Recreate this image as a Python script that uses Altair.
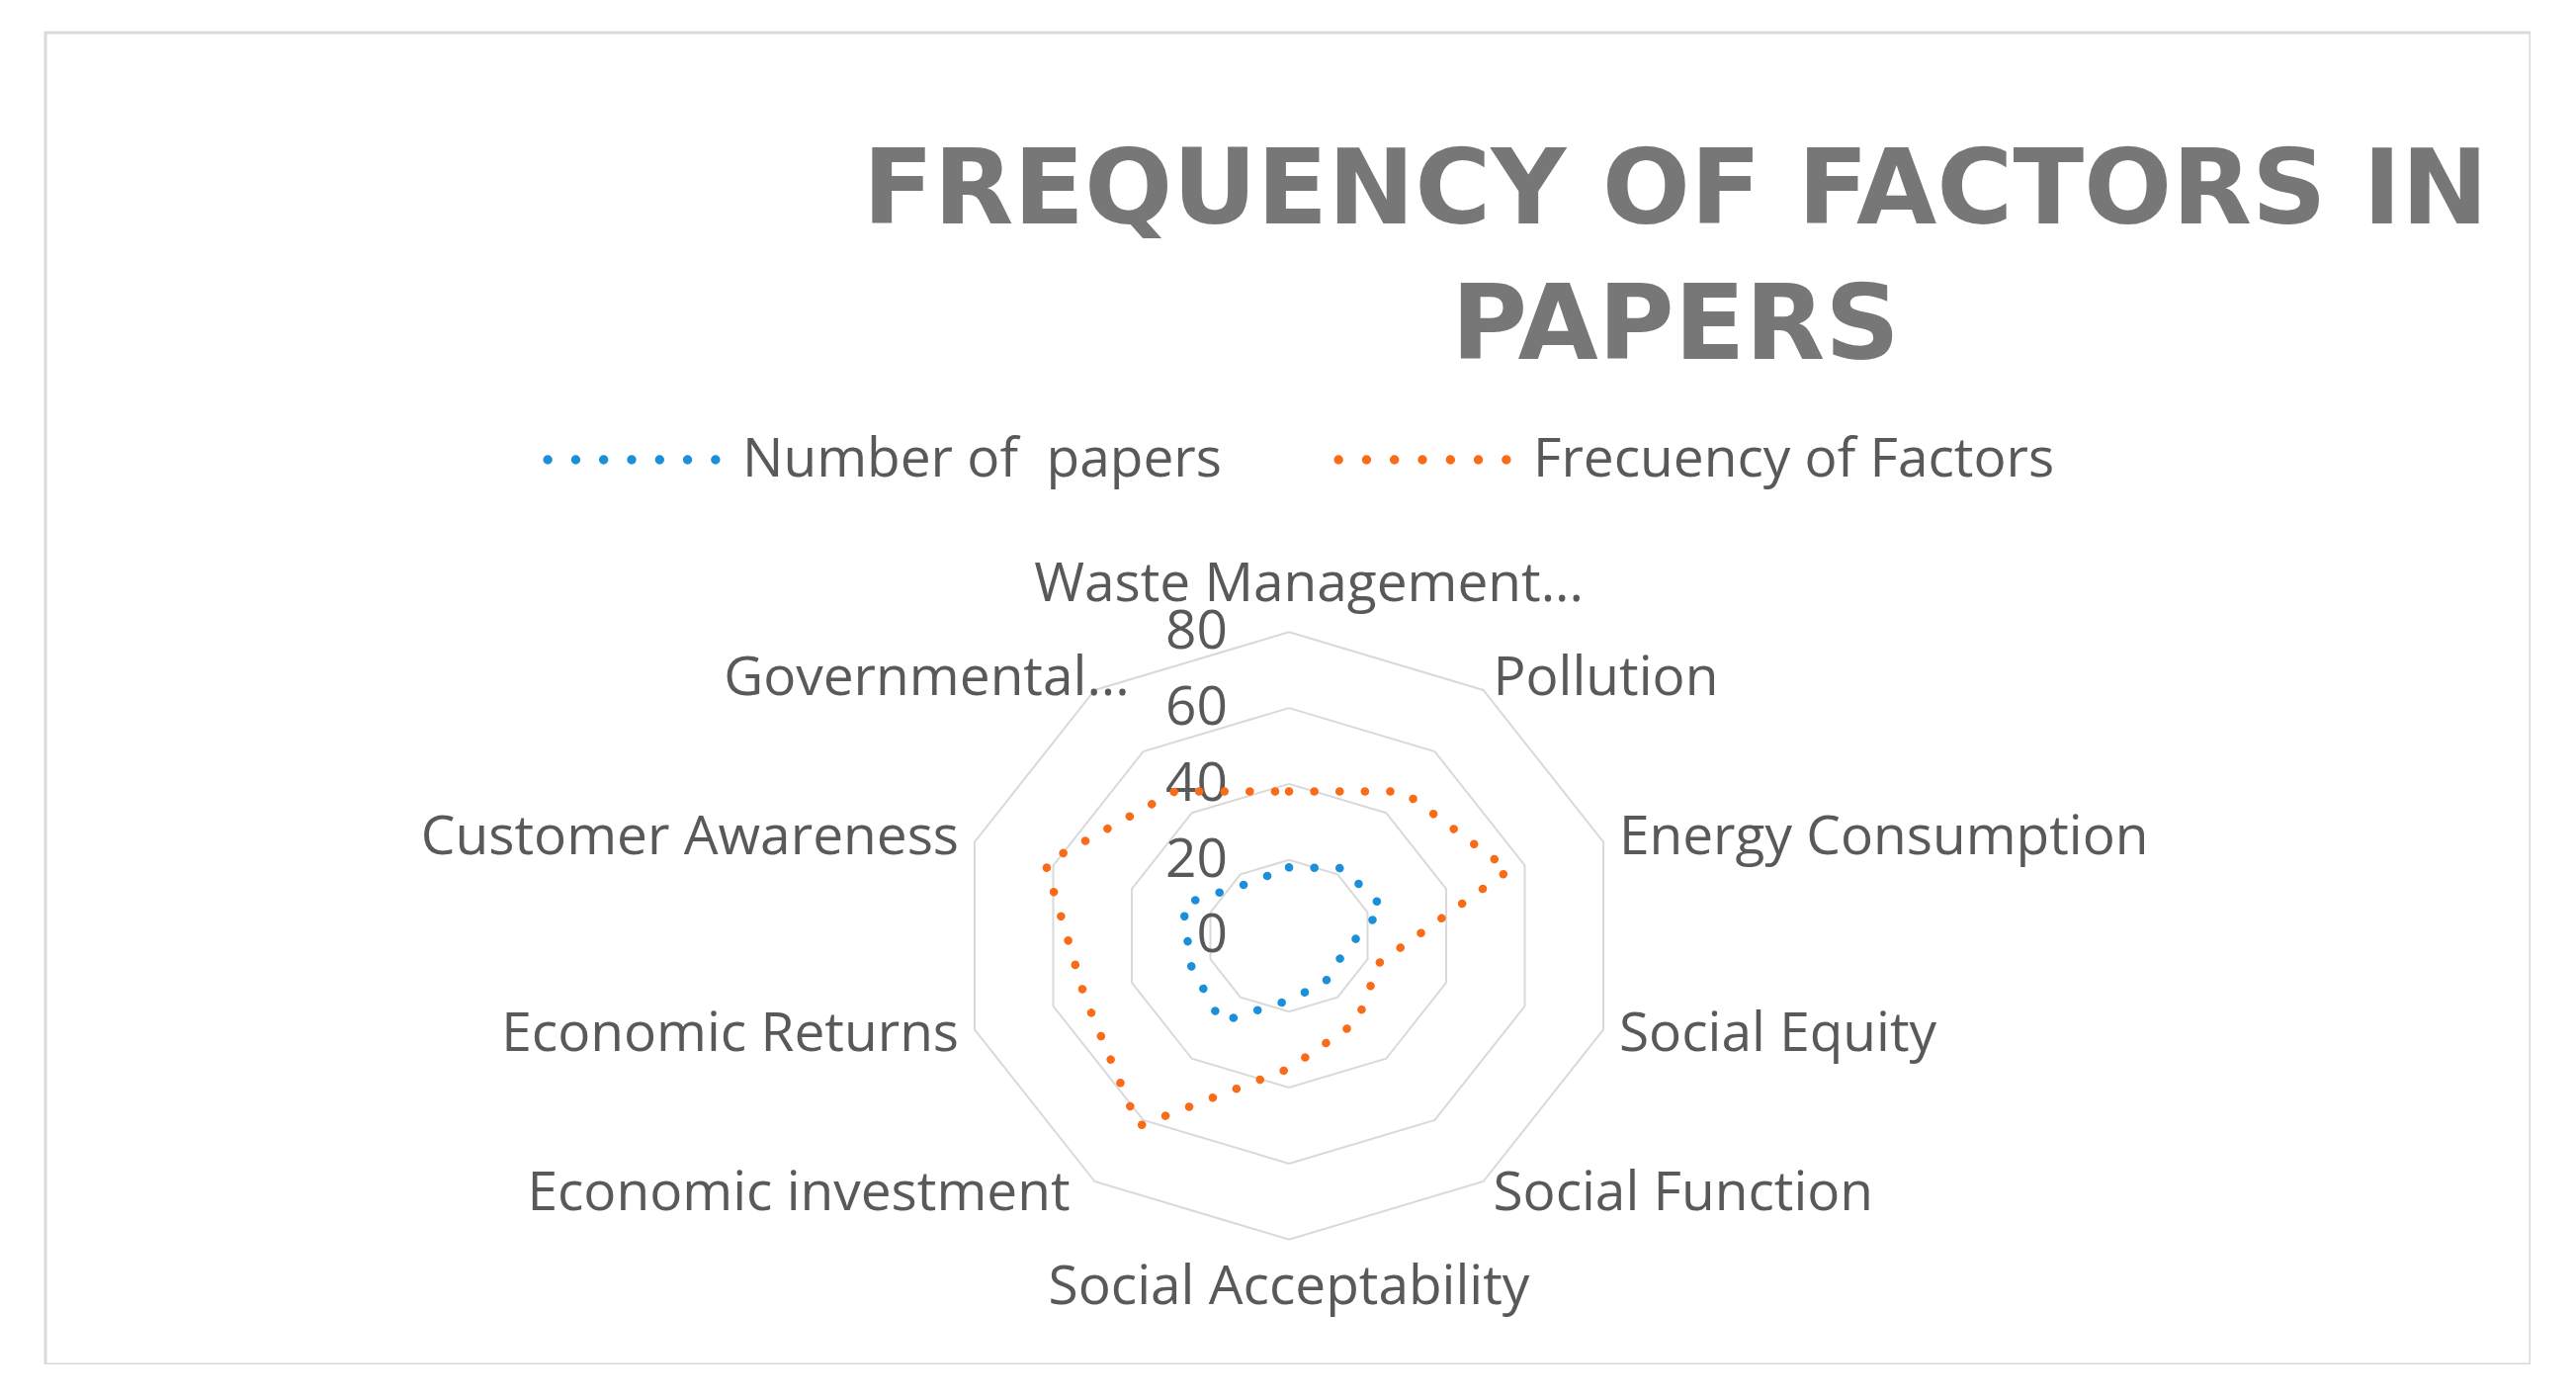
import altair as alt
import pandas as pd

# ---------------- data ----------------
categories = ["Waste Management...", "Pollution", "Energy Consumption", "Social Equity",
              "Social Function", "Social Acceptability", "Economic investment",
              "Economic Returns", "Customer Awareness", "Governmental..."]
number_of_papers = [18, 22, 24, 14, 15, 17, 28, 25, 27, 17]
frequency_of_factors = [38, 47, 56, 23, 28, 35, 62, 52, 62, 47]
series_names = ["Number of\u00a0 papers", "Frecuency of Factors"]
series_colors = ["#1C8FD9", "#F96B17"]
ring_levels = [20, 40, 60, 80]
tick_labels = [0, 20, 40, 60, 80]
title_lines = ["FREQUENCY OF FACTORS IN", "PAPERS"]

N = len(categories)

rows = []
for name, vals in zip(series_names, [number_of_papers, frequency_of_factors]):
    for i in range(N + 1):
        rows.append({"series": name, "idx": i, "value": vals[i % N]})
series_df = pd.DataFrame(rows)
ring_df = pd.DataFrame([{"level": lv, "idx": i} for lv in ring_levels for i in range(N + 1)])
cat_df = pd.DataFrame({"category": categories, "idx": list(range(N))})
tick_df = pd.DataFrame({"tick": tick_labels})

# ---------------- scales ----------------
XS = alt.Scale(domain=[-300.96, 300.48], nice=False, zero=False)
YS = alt.Scale(domain=[-112.9, 237.9], nice=False, zero=False)
X = alt.X("px:Q", scale=XS, axis=None)
Y = alt.Y("py:Q", scale=YS, axis=None)
ANG = f"datum.idx * 2 * PI / {N}"

FONT = "Open Sans"
TXT = "#595959"
FS = 55

rings = alt.Chart(ring_df).transform_calculate(ang=ANG).transform_calculate(
    px="datum.level * sin(datum.ang)", py="datum.level * cos(datum.ang)"
).mark_line(color="#D9D9D9", strokeWidth=2).encode(
    x=X, y=Y, detail="level:N", order="idx:Q"
)

ticks = alt.Chart(tick_df).transform_calculate(px="0", py="datum.tick").mark_text(
    align="right", baseline="middle", dx=-62, font=FONT, fontSize=FS, color=TXT
).encode(x=X, y=Y, text="tick:Q")

# legend symbol: a row of seven round dots (small rings stroked solid)
dot_xs = [-0.95, -0.633, -0.317, 0.0, 0.317, 0.633, 0.95]
rr = 0.027
sym_path = " ".join(
    f"M{x - rr:.4f},0 a{rr},{rr} 0 1,0 {2 * rr:.4f},0 a{rr},{rr} 0 1,0 {-2 * rr:.4f},0 Z" for x in dot_xs
)

lines = alt.Chart(series_df).transform_calculate(ang=ANG).transform_calculate(
    px="datum.value * sin(datum.ang)", py="datum.value * cos(datum.ang)"
).mark_line(strokeCap="round", strokeJoin="round").encode(
    x=X, y=Y,
    color=alt.Color(
        "series:N",
        scale=alt.Scale(domain=series_names, range=series_colors),
        legend=alt.Legend(
            orient="none", legendX=501, legendY=340, direction="horizontal", title=None,
            symbolType=sym_path, symbolSize=31920, symbolStrokeWidth=4.6,
            labelFont=FONT, labelFontSize=FS, labelColor=TXT, labelOffset=20,
            columnPadding=106, labelLimit=2000, padding=0,
        ),
    ),
    order="idx:Q",
    strokeWidth=alt.value(8.5),
    strokeDash=alt.value([0.1, 25.5]),
)

cat_base = alt.Chart(cat_df).transform_calculate(ang=ANG).transform_calculate(
    s="sin(datum.ang)", c="cos(datum.ang)"
).transform_calculate(
    L="abs(datum.s) < 0.2 ? 92.5 : 84",
    nudge="datum.idx == 0 ? 4.8 : (datum.idx == 6 ? -3.6 : (datum.idx == 9 ? 10.8 : 0))",
).transform_calculate(
    px="datum.L * datum.s + datum.nudge", py="datum.L * datum.c"
)


def cat_layer(cond, align):
    return cat_base.transform_filter(cond).mark_text(
        align=align, baseline="middle", font=FONT, fontSize=FS, color=TXT
    ).encode(x=X, y=Y, text="category:N")


lab_left = cat_layer("datum.s > 0.2", "left")
lab_right = cat_layer("datum.s < -0.2", "right")
lab_center = cat_layer("abs(datum.s) <= 0.2", "center")

chart = alt.layer(rings, ticks, lines, lab_left, lab_right, lab_center).properties(
    width=2514,
    height=1347,
    title=alt.TitleParams(
        text=title_lines, font="DejaVu Sans", fontSize=105, fontWeight="bold",
        color="#777777", anchor="middle", frame="group", baseline="top",
        offset=0, dx=392, dy=352, lineHeight=137,
    ),
    autosize=alt.AutoSizeParams(type="none"),
    padding={"left": 38, "top": 25, "right": 0, "bottom": 0},
).configure(background="white").configure_view(stroke="#D9D9D9", strokeWidth=3)

chart.save("out.html", embed_options={"renderer": "svg", "actions": False})
